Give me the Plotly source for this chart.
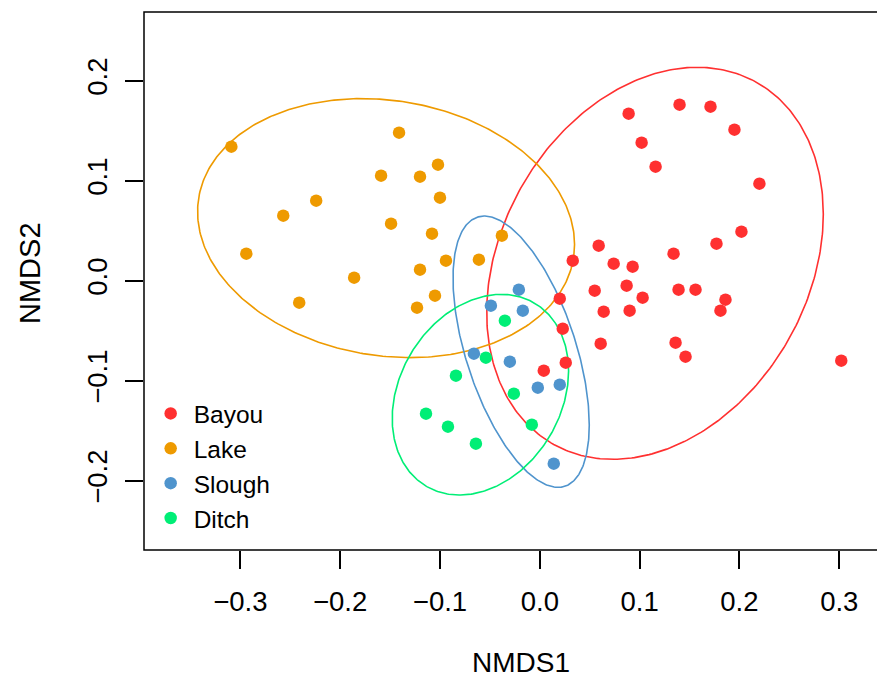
import numpy as np
import plotly.graph_objects as go

# ---- data (NMDS scores) ----
groups = ["Bayou", "Lake", "Slough", "Ditch"]
colors = ["#FF3030", "#EE9A00", "#4F94CD", "#00EE76"]

bayou_x = [0.089, 0.140, 0.171, 0.195, 0.102, 0.116, 0.220, 0.202, 0.059, 0.177,
           0.134, 0.033, 0.074, 0.093, 0.087, 0.055, 0.139, 0.156, 0.103, 0.186,
           0.181, 0.064, 0.090, 0.020, 0.023, 0.061, 0.136, 0.146, 0.302, 0.026, 0.004]
bayou_y = [0.167, 0.176, 0.174, 0.151, 0.138, 0.114, 0.097, 0.049, 0.035, 0.037,
           0.027, 0.020, 0.017, 0.014, -0.005, -0.010, -0.009, -0.009, -0.017, -0.019,
           -0.030, -0.031, -0.030, -0.018, -0.048, -0.063, -0.062, -0.076, -0.080, -0.082, -0.090]

lake_x = [-0.309, -0.294, -0.257, -0.224, -0.241, -0.186, -0.159, -0.149, -0.141, -0.120,
          -0.102, -0.100, -0.108, -0.094, -0.120, -0.105, -0.123, -0.061, -0.038]
lake_y = [0.134, 0.027, 0.065, 0.080, -0.022, 0.003, 0.105, 0.057, 0.148, 0.104,
          0.116, 0.083, 0.047, 0.020, 0.011, -0.015, -0.027, 0.021, 0.045]

slough_x = [-0.021, -0.049, -0.017, -0.066, -0.030, -0.002, 0.020, 0.014]
slough_y = [-0.009, -0.025, -0.030, -0.073, -0.081, -0.107, -0.104, -0.183]

ditch_x = [-0.035, -0.054, -0.084, -0.026, -0.114, -0.092, -0.008, -0.064]
ditch_y = [-0.040, -0.077, -0.095, -0.113, -0.133, -0.146, -0.144, -0.163]

# ellipse parameters per group: centre (x, y) and shape matrix [[a, b], [b, d]]
ell_cx = [0.1154, -0.154, -0.0187, -0.0595]
ell_cy = [0.0174, 0.0526, -0.0710, -0.1140]
ell_a = [0.02843, 0.03565, 0.004658, 0.007806]
ell_b = [0.0083, -0.0031, -0.0050, 0.0021]
ell_d = [0.03842, 0.01677, 0.0184, 0.01007]

xs = [bayou_x, lake_x, slough_x, ditch_x]
ys = [bayou_y, lake_y, slough_y, ditch_y]

x_ticks = [-0.3, -0.2, -0.1, 0.0, 0.1, 0.2, 0.3]
y_ticks = [-0.2, -0.1, 0.0, 0.1, 0.2]

FONT = "Liberation Sans, Arial, sans-serif"

fig = go.Figure()

t = np.linspace(0, 2 * np.pi, 361)
for i, g in enumerate(groups):
    a, b, d = ell_a[i], ell_b[i], ell_d[i]
    l11 = np.sqrt(a)
    l21 = b / l11
    l22 = np.sqrt(d - l21 ** 2)
    ex = ell_cx[i] + l11 * np.cos(t)
    ey = ell_cy[i] + l21 * np.cos(t) + l22 * np.sin(t)
    fig.add_trace(go.Scatter(x=ex, y=ey, mode="lines",
                             line=dict(color=colors[i], width=1.6),
                             showlegend=False, hoverinfo="skip"))

for i, g in enumerate(groups):
    fig.add_trace(go.Scatter(x=xs[i], y=ys[i], mode="markers", name=g,
                             marker=dict(color=colors[i], size=12.5, line=dict(width=0))))

fig.update_layout(
    width=877, height=681,
    margin=dict(l=144, r=0, t=12, b=131),
    paper_bgcolor="white", plot_bgcolor="white",
    font=dict(family=FONT, size=25, color="black"),
    showlegend=True,
    legend=dict(x=0.005, y=0.2955, xanchor="left", yanchor="top",
                bgcolor="rgba(0,0,0,0)", borderwidth=0,
                font=dict(family=FONT, size=24.5, color="black"),
                tracegroupgap=0, itemsizing="trace", itemwidth=36),
    xaxis=dict(range=[-0.3965, 0.3378], tickvals=x_ticks, tickformat=".1f",
               showgrid=False, zeroline=False, showline=False,
               ticks="outside", ticklen=18, tickwidth=1.5, tickcolor="black",
               tickfont=dict(family=FONT, size=27.5, color="black"),
               ticklabelstandoff=9),
    yaxis=dict(range=[-0.2693, 0.2687], tickvals=y_ticks, tickformat=".1f",
               showgrid=False, zeroline=False, showline=False,
               ticks="outside", ticklen=18, tickwidth=1.5, tickcolor="black",
               tickangle=-90,
               tickfont=dict(family=FONT, size=27.5, color="black"),
               ticklabelstandoff=7),
)

# plot box (right side falls outside the window, as in the reference)
fig.add_shape(type="rect", xref="paper", yref="paper", x0=0, y0=0, x1=1.1, y1=1,
              line=dict(color="black", width=1.5), fillcolor="rgba(0,0,0,0)", layer="above")

# axis titles
fig.add_annotation(text="NMDS1", xref="paper", yref="paper",
                   x=(521 - 144) / 733, y=-(680 - 550) / 538,
                   xanchor="center", yanchor="bottom", showarrow=False,
                   font=dict(family=FONT, size=28, color="black"))
fig.add_annotation(text="NMDS2", xref="paper", yref="paper",
                   x=-(144 - 30) / 733, y=(550 - 273) / 538,
                   xanchor="center", yanchor="middle", showarrow=False, textangle=-90,
                   font=dict(family=FONT, size=29, color="black"))

fig.write_html("out.html")
